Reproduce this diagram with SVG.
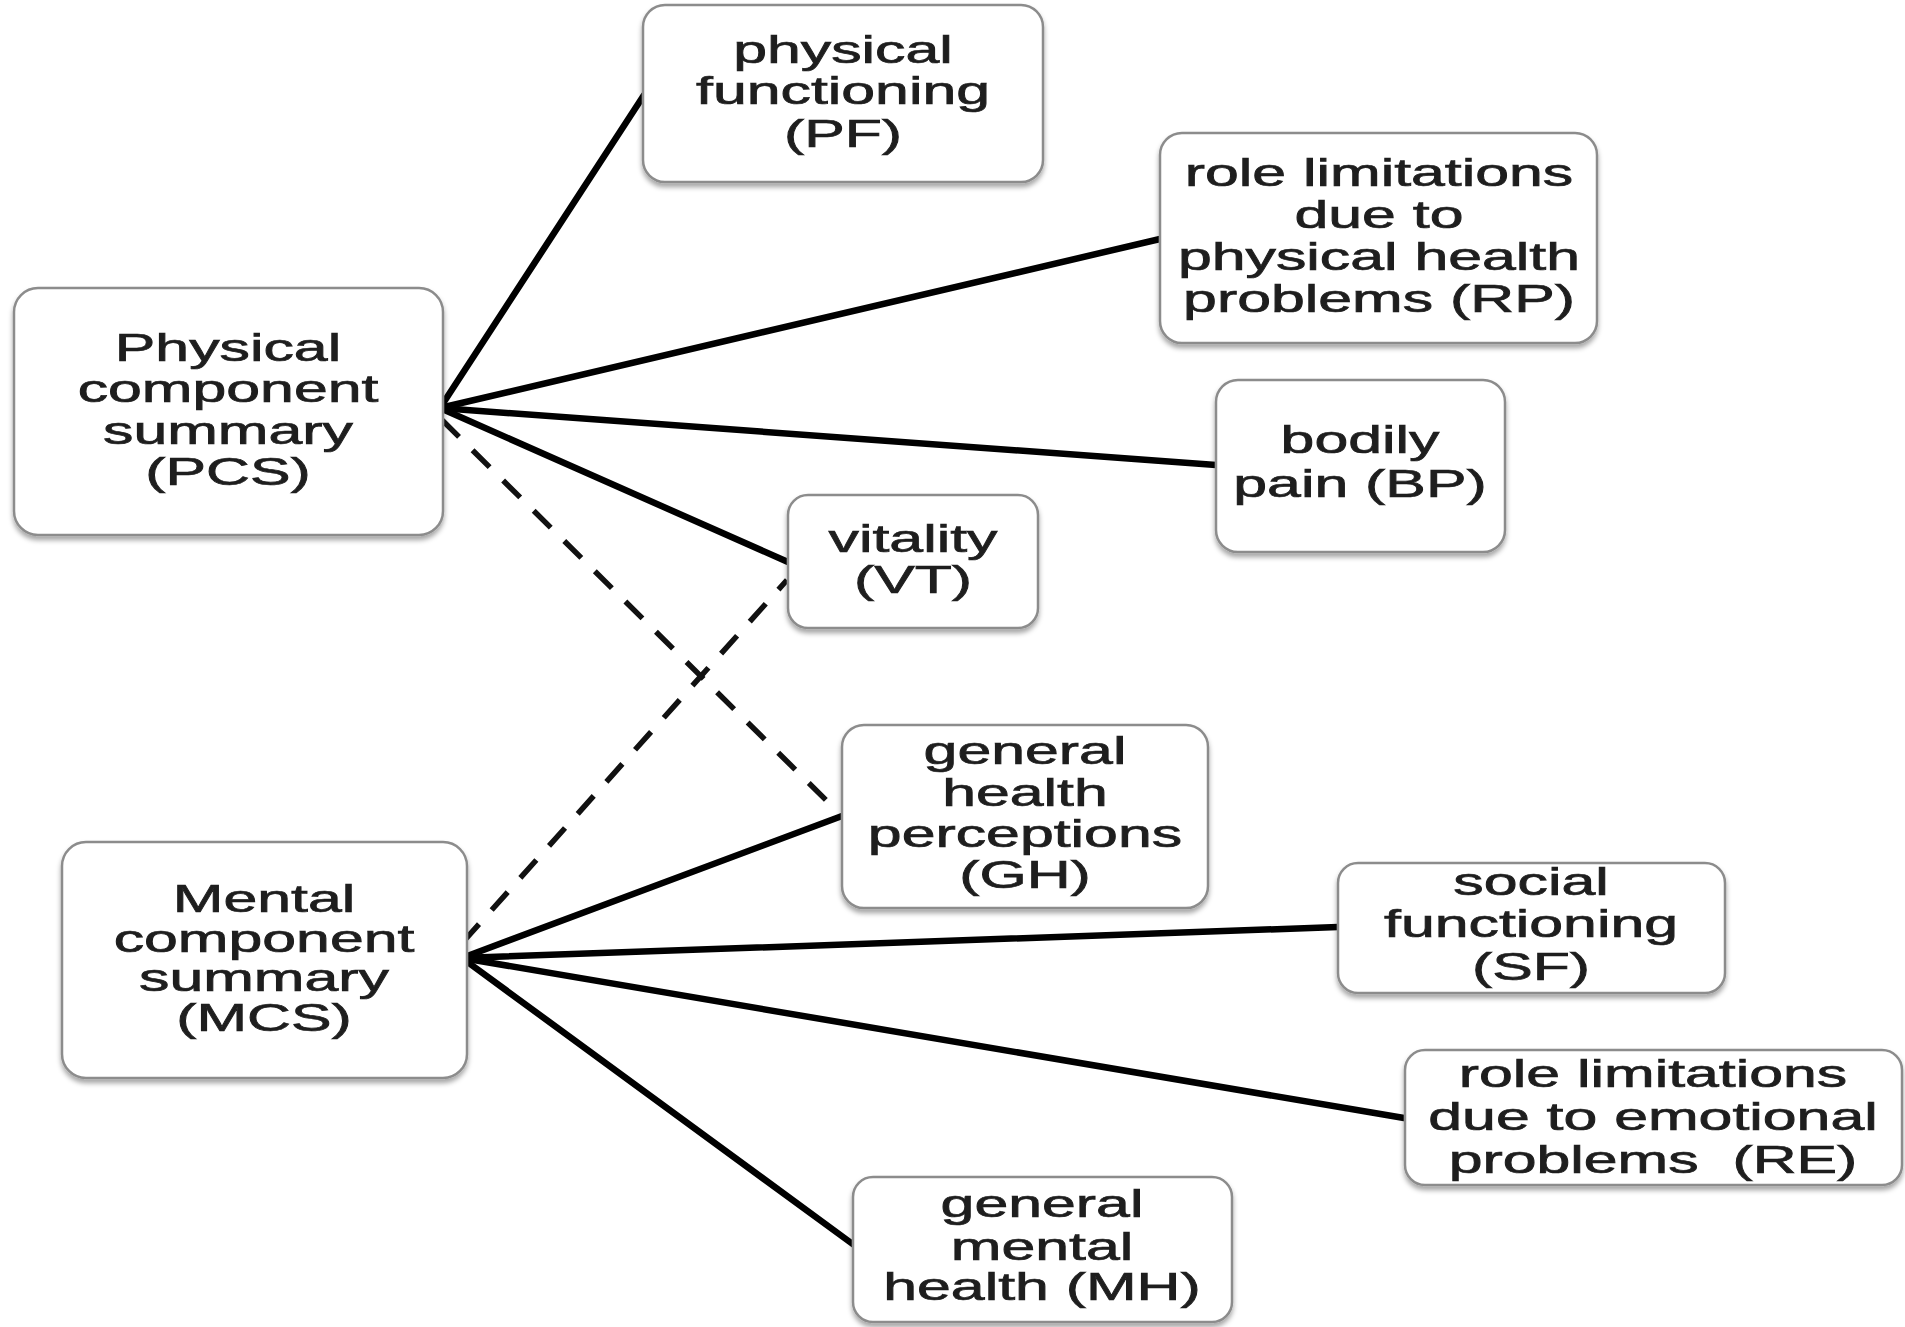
<svg xmlns="http://www.w3.org/2000/svg" width="1905" height="1327" viewBox="0 0 1905 1327">
<style>
.box{fill:#fff;stroke:#8c8c8c;stroke-width:2.5;filter:url(#sh)}
.lbl{font-family:"Liberation Sans",Arial,sans-serif;font-size:38px;fill:#1e1e1e;stroke:#1e1e1e;stroke-width:0.7;text-anchor:middle}
.ln{stroke:#000;stroke-width:6.5;fill:none;stroke-linecap:round}
.dash{stroke:#111;stroke-width:5.5;fill:none;stroke-dasharray:24 19}
</style>
<defs>
<filter id="sh" x="-10%" y="-10%" width="120%" height="130%">
<feDropShadow dx="0" dy="4" stdDeviation="2.5" flood-color="#000" flood-opacity="0.35"/>
</filter>
</defs>
<rect width="1905" height="1327" fill="#fff"/>
<g id="connectors">
<line class="ln" x1="440" y1="408" x2="644" y2="95"/>
<line class="ln" x1="440" y1="408" x2="1160" y2="239"/>
<line class="ln" x1="440" y1="408" x2="1216" y2="465"/>
<line class="ln" x1="440" y1="408" x2="788" y2="562"/>
<line class="dash" x1="442" y1="420" x2="826" y2="800"/>
<line class="dash" x1="463" y1="942" x2="787" y2="580"/>
<line class="ln" x1="462" y1="958" x2="842" y2="816"/>
<line class="ln" x1="462" y1="958" x2="1338" y2="927"/>
<line class="ln" x1="462" y1="958" x2="1404" y2="1118"/>
<line class="ln" x1="462" y1="958" x2="854" y2="1245"/>
</g>
<g id="PCS">
<rect class="box" x="14" y="288" width="429" height="247" rx="24"/>
<text class="lbl" transform="translate(228 0) scale(1.6 1)"><tspan x="0" y="361">Physical</tspan><tspan x="0" y="402">component</tspan><tspan x="0" y="444">summary</tspan><tspan x="0" y="485">(PCS)</tspan></text>
</g>
<g id="PF">
<rect class="box" x="643" y="5" width="400" height="177" rx="22"/>
<text class="lbl" transform="translate(843 0) scale(1.6 1)"><tspan x="0" y="63">physical</tspan><tspan x="0" y="104">functioning</tspan><tspan x="0" y="147">(PF)</tspan></text>
</g>
<g id="RP">
<rect class="box" x="1160" y="133" width="437" height="210" rx="22"/>
<text class="lbl" transform="translate(1379 0) scale(1.6 1)"><tspan x="0" y="186">role limitations</tspan><tspan x="0" y="228">due to</tspan><tspan x="0" y="270">physical health</tspan><tspan x="0" y="312">problems (RP)</tspan></text>
</g>
<g id="BP">
<rect class="box" x="1216" y="380" width="289" height="172" rx="22"/>
<text class="lbl" transform="translate(1360 0) scale(1.6 1)"><tspan x="0" y="453">bodily</tspan><tspan x="0" y="497">pain (BP)</tspan></text>
</g>
<g id="VT">
<rect class="box" x="788" y="495" width="250" height="133" rx="20"/>
<text class="lbl" transform="translate(913 0) scale(1.6 1)"><tspan x="0" y="552">vitality</tspan><tspan x="0" y="593">(VT)</tspan></text>
</g>
<g id="GH">
<rect class="box" x="842" y="725" width="366" height="183" rx="22"/>
<text class="lbl" transform="translate(1025 0) scale(1.6 1)"><tspan x="0" y="764">general</tspan><tspan x="0" y="806">health</tspan><tspan x="0" y="847">perceptions</tspan><tspan x="0" y="888">(GH)</tspan></text>
</g>
<g id="MCS">
<rect class="box" x="62" y="842" width="405" height="236" rx="24"/>
<text class="lbl" transform="translate(264 0) scale(1.6 1)"><tspan x="0" y="912">Mental</tspan><tspan x="0" y="952">component</tspan><tspan x="0" y="991">summary</tspan><tspan x="0" y="1031">(MCS)</tspan></text>
</g>
<g id="SF">
<rect class="box" x="1338" y="863" width="387" height="130" rx="20"/>
<text class="lbl" transform="translate(1531 0) scale(1.6 1)"><tspan x="0" y="895">social</tspan><tspan x="0" y="937">functioning</tspan><tspan x="0" y="980">(SF)</tspan></text>
</g>
<g id="RE">
<rect class="box" x="1405" y="1050" width="497" height="135" rx="20"/>
<text class="lbl" transform="translate(1653 0) scale(1.6 1)"><tspan x="0" y="1087">role limitations</tspan><tspan x="0" y="1130">due to emotional</tspan><tspan x="0" y="1173" xml:space="preserve">problems  (RE)</tspan></text>
</g>
<g id="MH">
<rect class="box" x="853" y="1177" width="379" height="145" rx="20"/>
<text class="lbl" transform="translate(1042 0) scale(1.6 1)"><tspan x="0" y="1217">general</tspan><tspan x="0" y="1260">mental</tspan><tspan x="0" y="1300">health (MH)</tspan></text>
</g>
</svg>
